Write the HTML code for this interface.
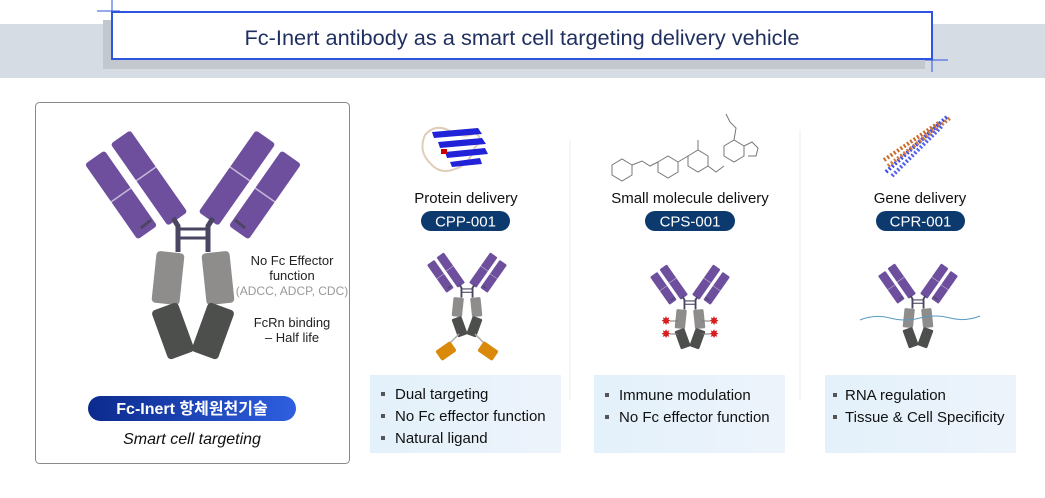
<!DOCTYPE html>
<html><head><meta charset="utf-8"><style>
body{margin:0;width:1045px;height:493px;overflow:hidden;background:#fff;font-family:"Liberation Sans","Noto Sans CJK KR",sans-serif;}
</style></head><body>
<svg width="1045" height="493" viewBox="0 0 1045 493" xmlns="http://www.w3.org/2000/svg" font-family="Liberation Sans, Noto Sans CJK KR, sans-serif">
<defs>
<g id="ab">
  <g fill="#6e4f9e">
    <rect x="-12" y="-46" width="24" height="92" rx="3" transform="translate(-72,55) rotate(-35)"/>
    <rect x="-12" y="-50" width="24" height="100" rx="3" transform="translate(-44,38) rotate(-35)"/>
    <rect x="-12" y="-46" width="24" height="92" rx="3" transform="translate(72,55) rotate(35)"/>
    <rect x="-12" y="-50" width="24" height="100" rx="3" transform="translate(44,38) rotate(35)"/>
  </g>
  <g stroke="#fff" stroke-width="1.5" opacity="0.6">
    <line x1="-12" y1="0" x2="12" y2="0" transform="translate(-72,55) rotate(-35)"/>
    <line x1="-12" y1="-5" x2="12" y2="-5" transform="translate(-44,38) rotate(-35)"/>
    <line x1="-12" y1="0" x2="12" y2="0" transform="translate(72,55) rotate(35)"/>
    <line x1="-12" y1="-5" x2="12" y2="-5" transform="translate(44,38) rotate(35)"/>
  </g>
  <g stroke="#4a4560" stroke-width="5" fill="none">
    <path d="M-20,78 L-15,86 L-15,112"/>
    <path d="M20,78 L15,86 L15,112"/>
    <line x1="-15" y1="89" x2="15" y2="89" stroke-width="3"/>
    <line x1="-15" y1="98" x2="15" y2="98" stroke-width="3"/>
    <path d="M-52,88 L-42,80" stroke-width="3"/>
    <path d="M52,88 L42,80" stroke-width="3"/>
  </g>
  <rect x="-14" y="-26" width="28" height="52" rx="4" fill="#8f8c8c" transform="translate(-25,138) rotate(6)"/>
  <rect x="-14" y="-26" width="28" height="52" rx="4" fill="#8f8c8c" transform="translate(25,138) rotate(-6)"/>
  <rect x="-14" y="-26" width="28" height="52" rx="4" fill="#4d4f4d" transform="translate(-20,191) rotate(-20)"/>
  <rect x="-14" y="-26" width="28" height="52" rx="4" fill="#4d4f4d" transform="translate(20,191) rotate(20)"/>
</g>
<linearGradient id="pill" x1="0" x2="1"><stop offset="0" stop-color="#0b2a8c"/><stop offset="1" stop-color="#2f5fe0"/></linearGradient>
<linearGradient id="box" x1="0" x2="1"><stop offset="0" stop-color="#e3f1fa"/><stop offset="1" stop-color="#edf3fb"/></linearGradient>
</defs>

<rect x="0" y="24" width="1045" height="54" fill="#d6dce4"/>
<rect x="103" y="20" width="822" height="49" fill="#c3c8cf"/>
<rect x="112" y="12" width="820" height="47" fill="#fff" stroke="#2e55e0" stroke-width="2"/>
<line x1="97" y1="11" x2="120" y2="11" stroke="#2e55e0" stroke-width="1"/>
<line x1="112" y1="0" x2="112" y2="20" stroke="#2e55e0" stroke-width="1"/>
<line x1="925" y1="60" x2="948" y2="60" stroke="#2e55e0" stroke-width="1"/>
<line x1="932" y1="50" x2="932" y2="72" stroke="#2e55e0" stroke-width="1"/>
<text x="522" y="45" text-anchor="middle" font-size="21.5" fill="#1f2f5f" textLength="555" lengthAdjust="spacingAndGlyphs">Fc-Inert antibody as a smart cell targeting delivery vehicle</text>

<rect x="35.5" y="102.5" width="314" height="361" rx="4" fill="#fff" stroke="#8a8a8a"/>
<use href="#ab" transform="translate(193,140)"/>
<g font-size="13" fill="#222" text-anchor="middle">
<text x="292" y="265">No Fc Effector</text>
<text x="292" y="280">function</text>
<text x="292" y="295" fill="#999" font-size="12">(ADCC, ADCP, CDC)</text>
<text x="292" y="327">FcRn binding</text>
<text x="292" y="342">– Half life</text>
</g>
<rect x="88" y="396" width="208" height="25" rx="12.5" fill="url(#pill)"/>
<text x="192" y="414" text-anchor="middle" font-size="16" font-weight="bold" fill="#fff">Fc-Inert 항체원천기술</text>
<text x="192" y="444" text-anchor="middle" font-size="16" font-style="italic" fill="#111">Smart cell targeting</text>

<line x1="570" y1="140" x2="570" y2="400" stroke="#eee"/>
<line x1="800" y1="130" x2="800" y2="400" stroke="#eee"/>

<g>
<path d="M425,135 q10,-12 25,-4 t25,2 q10,6 0,14 q-6,18 -20,22 q-15,6 -25,-6 q-12,-12 -5,-28z" fill="none" stroke="#e0cdb8" stroke-width="2"/>
<g fill="#2222d8"><polygon points="432,132 478,128 482,134 434,138"/><polygon points="438,142 482,138 486,144 440,148"/><polygon points="445,152 485,148 488,154 447,158"/><polygon points="450,162 480,158 482,164 452,167"/></g>
<rect x="441" y="149" width="6" height="5" fill="#c00"/>
</g>
<text x="466" y="203" text-anchor="middle" font-size="15" fill="#111">Protein delivery</text>
<rect x="421" y="211" width="89" height="20" rx="10" fill="#0d3a6e"/>
<text x="465.5" y="226.5" text-anchor="middle" font-size="15" fill="#fff">CPP-001</text>

<g fill="none" stroke="#777" stroke-width="1">
<polygon points="612,165 622,159 632,165 632,175 622,181 612,175"/>
<path d="M632,165 l10,-4 l8,5 l8,-4"/>
<polygon points="658,162 668,156 678,162 678,172 668,178 658,172"/>
<path d="M678,162 l10,-6"/>
<polygon points="688,156 698,150 708,156 708,166 698,172 688,166"/>
<path d="M698,150 v-10 M708,166 l8,6 l8,-6"/>
<polygon points="724,164 734,158 744,164 744,174 734,180 724,174" transform="translate(0,-18)"/>
<path d="M734,140 l2,-12 l-6,-6 l-4,-8 M744,146 l8,-4 l6,6 l-2,8 l-8,0"/>
</g>
<text x="690" y="203" text-anchor="middle" font-size="15" fill="#111">Small molecule delivery</text>
<rect x="645" y="211" width="90" height="20" rx="10" fill="#0d3a6e"/>
<text x="690" y="226.5" text-anchor="middle" font-size="15" fill="#fff">CPS-001</text>

<g stroke-width="4" stroke-dasharray="2 2">
<line x1="886" y1="172" x2="948" y2="116" stroke="#3a4cf0"/>
<line x1="888" y1="166" x2="950" y2="118" stroke="#d07a3a"/>
<line x1="892" y1="176" x2="942" y2="126" stroke="#5060f0"/>
<line x1="884" y1="160" x2="940" y2="122" stroke="#c86a2a"/>
</g>
<text x="920" y="203" text-anchor="middle" font-size="15" fill="#111">Gene delivery</text>
<rect x="876" y="211" width="89" height="20" rx="10" fill="#0d3a6e"/>
<text x="920.5" y="226.5" text-anchor="middle" font-size="15" fill="#fff">CPR-001</text>

<use href="#ab" transform="translate(467,256) scale(0.37)"/>
<g stroke="#aaa" stroke-width="1.5" fill="none"><path d="M459,334 q-6,6 -12,12"/><path d="M475,334 q6,6 12,12"/></g>
<rect x="-9" y="-6" width="18" height="12" rx="2" fill="#d98a0a" transform="translate(446,351) rotate(-35)"/>
<rect x="-9" y="-6" width="18" height="12" rx="2" fill="#d98a0a" transform="translate(488,351) rotate(35)"/>

<use href="#ab" transform="translate(690,268) scale(0.37)"/>
<g fill="#d81e1e" font-size="12" text-anchor="middle">
<text x="666" y="325">✸</text><text x="666" y="338">✸</text><text x="714" y="325">✸</text><text x="714" y="338">✸</text>
</g>
<g stroke="#777" stroke-width="1"><line x1="670" y1="321" x2="678" y2="321"/><line x1="670" y1="334" x2="678" y2="334"/><line x1="702" y1="321" x2="710" y2="321"/><line x1="702" y1="334" x2="710" y2="334"/></g>

<use href="#ab" transform="translate(918,267) scale(0.37)"/>
<path d="M860,320 q15,-6 30,-2 t30,0 t30,0 t30,-2" fill="none" stroke="#5a9ac0" stroke-width="1"/>

<rect x="370" y="375" width="191" height="78" fill="url(#box)"/>
<rect x="594" y="375" width="191" height="78" fill="url(#box)"/>
<rect x="825" y="375" width="191" height="78" fill="url(#box)"/>
<g font-size="15" fill="#111">
<text x="395" y="399">Dual targeting</text>
<text x="395" y="421">No Fc effector function</text>
<text x="395" y="443">Natural ligand</text>
<text x="619" y="400">Immune modulation</text>
<text x="619" y="422">No Fc effector function</text>
<text x="845" y="400">RNA regulation</text>
<text x="845" y="422">Tissue &amp; Cell Specificity</text>
</g>
<g fill="#555">
<rect x="381" y="392" width="4" height="4"/><rect x="381" y="414" width="4" height="4"/><rect x="381" y="436" width="4" height="4"/>
<rect x="605" y="393" width="4" height="4"/><rect x="605" y="415" width="4" height="4"/>
<rect x="833" y="393" width="4" height="4"/><rect x="833" y="415" width="4" height="4"/>
</g>
</svg>
</body></html>
